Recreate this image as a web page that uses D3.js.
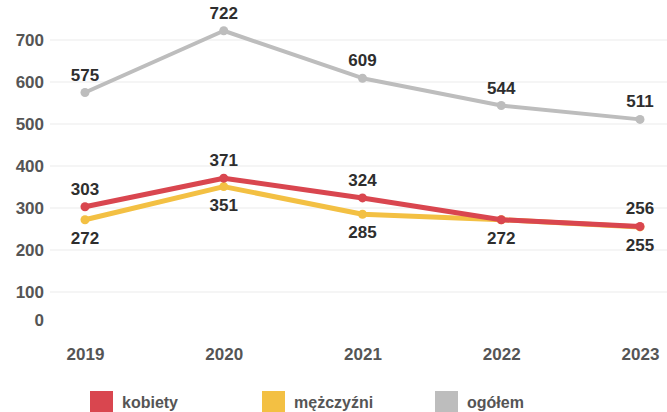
<!DOCTYPE html>
<html><head><meta charset="utf-8">
<script src="https://cdn.jsdelivr.net/npm/d3@7/dist/d3.min.js"></script>
<style>
body{margin:0;background:#fff;}
text{font-family:"Liberation Sans",Arial,sans-serif;font-weight:bold;}
</style></head>
<body><svg id="c" width="667" height="412"></svg>
<script>
const years = ["2019","2020","2021","2022","2023"];
const kobiety = [303, 371, 324, 272, 256];
const mezczyzni = [272, 351, 285, 272, 255];
const ogolem = [575, 722, 609, 544, 511];
const yTicks = [0,100,200,300,400,500,600,700];
const seriesNames = ["kobiety","mężczyźni","ogółem"];
const colors = ["#d9464f","#f3c043","#bdbdbd"];

const svg = d3.select("#c");
const x = d3.scalePoint().domain(years).range([85,640]);
const y = d3.scaleLinear().domain([0,700]).range([334,40]);

// grid
svg.append("g").selectAll("line").data(yTicks.filter(d=>d>0)).join("line")
  .attr("x1",50).attr("x2",667).attr("y1",d=>y(d)).attr("y2",d=>y(d))
  .attr("stroke","#ececec").attr("stroke-width",1.2);

// y axis
const ya = svg.append("g").attr("transform","translate(44,0)")
  .call(d3.axisLeft(y).tickValues(yTicks).tickSize(0).tickPadding(0));
ya.select(".domain").remove();
ya.selectAll("text").attr("font-size",17).attr("fill","#555")
  .attr("font-family","Liberation Sans, Arial, sans-serif").attr("font-weight","bold")
  .attr("dy",(d)=> d===0 ? "-0.5em" : "0.32em");

// x axis
const xa = svg.append("g").attr("transform","translate(0,348)")
  .call(d3.axisBottom(x).tickSize(0).tickPadding(0));
xa.select(".domain").remove();
xa.selectAll("text").attr("font-size",17).attr("fill","#555")
  .attr("font-family","Liberation Sans, Arial, sans-serif").attr("font-weight","bold")
  .attr("dy","0.71em");

const data = [kobiety, mezczyzni, ogolem];
const line = d3.line().x((d,i)=>x(years[i])).y(d=>y(d));
[2,1,0].forEach(s=>{
  svg.append("path").datum(data[s]).attr("d",line).attr("fill","none")
    .attr("stroke",colors[s]).attr("stroke-width",s===2?4:5).attr("stroke-linejoin","round");
  svg.append("g").selectAll("circle").data(data[s]).join("circle")
    .attr("cx",(d,i)=>x(years[i])).attr("cy",d=>y(d)).attr("r",4.5).attr("fill",colors[s]);
});

// labels
function labels(vals, pos, skip){
  const items = vals.map((v,i)=>({v,i})).filter(o=>!(skip||[]).includes(o.i));
  svg.append("g").selectAll("text").data(items).join("text")
    .attr("x",o=>x(years[o.i])).attr("y",o=>y(o.v)+(pos<0?-12:24))
    .attr("text-anchor","middle").attr("font-size",17).attr("fill","#2e2e2e")
    .text(o=>o.v);
}
labels(ogolem,-1);
labels(kobiety,-1,[3]);
labels(mezczyzni,1);

// legend
const lx = [90,262,435];
const lg = svg.append("g");
seriesNames.forEach((n,i)=>{
  lg.append("rect").attr("x",lx[i]).attr("y",391).attr("width",23).attr("height",22).attr("fill",colors[i]);
  lg.append("text").attr("x",lx[i]+32).attr("y",408).attr("font-size",16).attr("fill","#555").text(n);
});
</script></body></html>
